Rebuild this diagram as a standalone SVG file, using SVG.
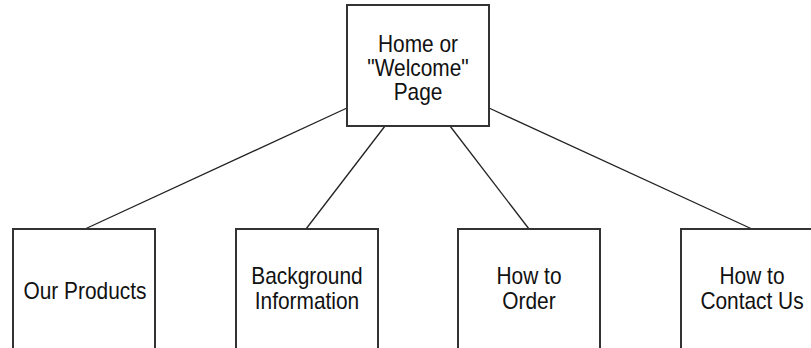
<svg xmlns="http://www.w3.org/2000/svg" width="811" height="348" viewBox="0 0 811 348">
<style>
.box{fill:#fff;stroke:#333;stroke-width:2}
.lbl{font-family:"Liberation Sans",Arial,sans-serif;font-size:24px;fill:#111;text-anchor:middle}
.conn line{stroke:#222;stroke-width:1.3}
</style>
<rect width="811" height="348" fill="#fff"/>
<g id="connectors" class="conn">
<line x1="347" y1="108" x2="85" y2="229"/>
<line x1="385" y1="126" x2="306" y2="229"/>
<line x1="450" y1="126" x2="529" y2="229"/>
<line x1="489" y1="108" x2="752" y2="229"/>
</g>
<g id="home">
<rect class="box" x="347" y="5" width="142" height="121"/>
<text class="lbl" transform="translate(418,52) scale(0.87,1)">Home or</text>
<text class="lbl" transform="translate(418,76) scale(0.87,1)">"Welcome"</text>
<text class="lbl" transform="translate(418,100) scale(0.87,1)">Page</text>
</g>
<g id="products">
<rect class="box" x="13" y="229" width="142" height="130"/>
<text class="lbl" transform="translate(85,299) scale(0.87,1)">Our Products</text>
</g>
<g id="background">
<rect class="box" x="236" y="229" width="142" height="130"/>
<text class="lbl" transform="translate(307,284) scale(0.87,1)">Background</text>
<text class="lbl" transform="translate(307,309) scale(0.87,1)">Information</text>
</g>
<g id="order">
<rect class="box" x="458" y="229" width="142" height="130"/>
<text class="lbl" transform="translate(529,284) scale(0.87,1)">How to</text>
<text class="lbl" transform="translate(529,309) scale(0.87,1)">Order</text>
</g>
<g id="contact">
<rect class="box" x="681" y="229" width="142" height="130"/>
<text class="lbl" transform="translate(752,284) scale(0.87,1)">How to</text>
<text class="lbl" transform="translate(752,309) scale(0.87,1)">Contact Us</text>
</g>
</svg>
